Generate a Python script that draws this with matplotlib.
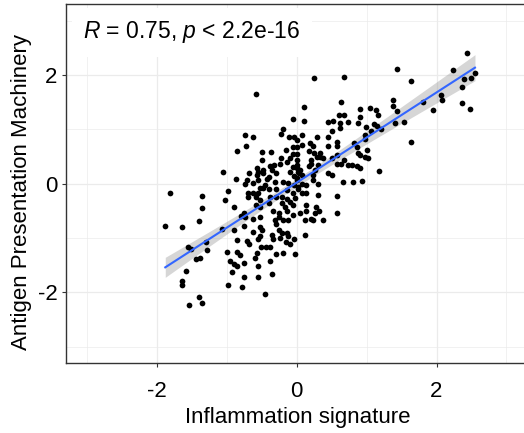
import numpy as np
import matplotlib
matplotlib.use("Agg")
import matplotlib.pyplot as plt

plt.rcParams['font.family'] = ['Liberation Sans', 'DejaVu Sans']
plt.rcParams['mathtext.fontset'] = 'custom'
plt.rcParams['mathtext.rm'] = 'Liberation Sans'
plt.rcParams['mathtext.it'] = 'Liberation Sans:italic'
plt.rcParams['axes.unicode_minus'] = False

# Inflammation signature (x) and Antigen Presentation Machinery (y)
inflammation = [
    2.43, 1.44, 2.24, 2.55, 2.49, 2.40, 2.36, 1.63, 0.25, 0.68, -0.58, 2.07, 2.08, 1.80, 2.36,
    1.95, 2.48, 1.38, 1.38, 1.44, 0.63, 0.10, 0.90, 1.05, 1.14, 1.17, 0.90, 0.60, 0.67, 0.52,
    0.45, 0.62, 0.74, -0.05, 0.10, 0.88, 1.53, 1.40, 1.10, 1.15, 1.20, 0.99, 0.62, 0.51, 0.45,
    0.98, 1.06, -0.20, -0.22, -0.74, -0.63, -0.72, -0.11, -0.04, 0.07, 0.19, 0.29, 1.63, 0.82, 0.86,
    0.57, 0.45, -0.85, -0.50, -0.37, -0.15, -0.05, 0.07, 0.23, 0.25, 0.88, 0.90, 1.02, 0.58, 0.33,
    0.21, -0.05, -0.10, -0.23, -0.14, 0.68, 0.57, 0.63, 0.79, 0.86, 0.90, -0.24, -0.38, -0.50, -0.57,
    -0.48, -1.06, -0.68, 1.18, 0.45, 0.31, 0.18, -0.06, 0.01, -0.09, 0.03, -0.04, -0.30, -0.39, -0.57,
    -0.55, -0.43, -0.31, -0.71, -0.87, -0.74, -0.62, -0.48, -0.40, -0.19, -0.12, -0.04, 0.07, 0.23, 0.31,
    0.66, 0.81, 0.94, -0.98, -0.62, -0.58, -0.69, -0.29, -0.14, 0.02, 0.07, -0.05, 0.31, 0.57, -1.81,
    -1.36, -1.02, -0.53, -0.29, -0.14, -0.10, -0.21, -0.17, -0.06, -0.90, -0.58, -0.52, -0.40, 0.14, 0.28,
    0.32, -1.36, -0.34, -0.26, -0.14, -0.05, 0.05, 0.14, 0.26, 0.58, -0.75, -0.80, -0.63, -0.52, -0.31,
    -0.19, -0.12, 0.21, 0.12, 0.38, -1.40, -1.88, -1.64, -1.07, -0.90, -0.75, -0.52, -0.50, -0.62, -0.29,
    -0.26, 0.12, -0.85, -0.71, -0.68, -0.52, -0.34, -0.24, -0.15, -0.10, -0.04, -1.55, -1.51, -1.29, -1.00,
    -0.85, -0.51, -0.44, -0.38, -0.57, -0.30, -0.19, -0.02, -1.38, -1.44, -0.95, -0.90, -0.86, -0.76, -0.60,
    -0.38, -0.56, -0.93, -1.59, -0.76, -0.55, -0.36, -1.64, -1.64, -0.98, -0.78, -0.45, -1.40, -1.35, -1.54,
    0.01, 0.00, 0.01, -0.32, -0.55, -0.48, -0.36, 0.02, 0.00, -0.45, -0.52, -0.69, 0.02, -0.55, 0.57,
    0.98, 0.01, 1.00, 0.17, 0.33, 0.29, 0.38, 0.50, 0.98, 0.21, 0.74, 0.00, 0.05, 0.26, 0.07,
    0.24, 0.50, 0.00, 0.14, -0.38, -0.21, -0.02, 0.14, -0.74, -0.26, 0.24, -0.14, -0.55, -0.12, -0.81,
    -1.30, -0.21, -0.36,
]
apm = [
    2.41, 2.10, 2.09, 2.03, 1.95, 1.92, 1.78, 1.89, 1.95, 1.97, 1.65, 1.63, 1.54, 1.51, 1.49,
    1.35, 1.38, 1.54, 1.43, 1.33, 1.51, 1.41, 1.38, 1.40, 1.35, 1.27, 1.23, 1.26, 1.26, 1.16,
    1.14, 1.12, 1.13, 1.19, 1.15, 1.12, 1.14, 1.12, 1.10, 1.06, 1.00, 1.05, 1.03, 0.96, 0.86,
    0.89, 0.97, 1.00, 0.91, 0.89, 0.85, 0.70, 0.85, 0.85, 0.89, 0.75, 0.86, 0.77, 0.74, 0.68,
    0.77, 0.69, 0.61, 0.58, 0.58, 0.62, 0.68, 0.71, 0.69, 0.56, 0.57, 0.52, 0.47, 0.53, 0.50,
    0.43, 0.55, 0.47, 0.47, 0.40, 0.43, 0.37, 0.36, 0.34, 0.33, 0.29, 0.36, 0.32, 0.43, 0.29,
    0.25, 0.21, 0.19, 0.23, 0.19, 0.34, 0.33, 0.31, 0.28, 0.22, 0.19, 0.15, 0.19, 0.13, 0.16,
    0.07, 0.08, 0.04, 0.07, 0.08, -0.01, 0.02, -0.07, -0.10, 0.04, 0.01, -0.02, -0.01, 0.07, -0.01,
    0.04, 0.04, 0.05, -0.13, -0.17, -0.24, -0.24, -0.10, -0.12, -0.10, -0.18, -0.18, -0.21, -0.22, -0.17,
    -0.23, -0.30, -0.30, -0.24, -0.28, -0.33, -0.36, -0.42, -0.39, -0.42, -0.39, -0.43, -0.36, -0.39, -0.43,
    -0.50, -0.45, -0.51, -0.54, -0.51, -0.58, -0.54, -0.51, -0.54, -0.53, -0.53, -0.59, -0.64, -0.61, -0.67,
    -0.67, -0.67, -0.64, -0.67, -0.67, -0.68, -0.77, -0.80, -0.84, -0.86, -0.78, -0.79, -0.86, -0.89, -0.74,
    -0.85, -0.94, -1.03, -1.05, -1.11, -0.97, -1.02, -0.99, -1.08, -1.10, -1.02, -1.16, -1.20, -1.21, -1.26,
    -1.25, -1.16, -1.17, -1.16, -1.28, -1.29, -1.27, -1.29, -1.36, -1.38, -1.43, -1.48, -1.51, -1.46, -1.37,
    -1.43, -1.52, -1.62, -1.60, -1.72, -1.72, -1.66, -1.79, -1.86, -1.87, -1.89, -2.03, -2.09, -2.20, -2.23,
    0.68, 0.54, 0.43, 0.34, 0.22, 0.19, 0.25, 0.22, 0.10, -0.02, -0.07, -0.18, -0.06, -0.18, 0.70,
    0.83, 0.80, 0.62, 0.60, 0.56, 0.50, 0.47, 0.47, 0.50, 0.37, 0.34, 0.34, 0.25, 0.25, 0.16,
    0.16, 0.16, 0.07, -0.02, -0.24, -0.24, -0.27, -0.18, -0.61, -0.61, -0.67, -0.90, -1.02, -0.97, -1.31,
    -1.08, -0.90, -0.94,
]

x_ticks = [-2, 0, 2]
y_ticks = [-2, 0, 2]
minor_ticks = [-3, -1, 1, 3]
x_title = "Inflammation signature"
y_title = "Antigen Presentation Machinery"
label_text = r"$\it{R}$ = 0.75, $\it{p}$ < 2.2e-16"

x = np.array(inflammation)
y = np.array(apm)

W, H = 524, 433
fig = plt.figure(figsize=(W / 100, H / 100), dpi=100)
left_px, right_px, top_px, bot_px = 66, 527.4, 4.2, 363.2
ax = fig.add_axes([left_px / W, (H - bot_px) / H, (right_px - left_px) / W, (bot_px - top_px) / H])
ax.set_xlim(-3.3, 3.3)
ax.set_ylim(-3.3, 3.3)

ax.set_xticks(x_ticks)
ax.set_yticks(y_ticks)
ax.set_xticks(minor_ticks, minor=True)
ax.set_yticks(minor_ticks, minor=True)
ax.grid(True, which='major', color='#EBEBEB', linewidth=0.9)
ax.grid(True, which='minor', color='#EBEBEB', linewidth=0.5)
ax.set_axisbelow(True)
ax.tick_params(which='minor', length=0)
ax.tick_params(axis='both', which='major', length=3, width=0.8, color='#333333',
               labelsize=16, labelcolor='black')
ax.tick_params(axis='x', which='major', pad=10)
ax.tick_params(axis='y', which='major', pad=3)
for s in ax.spines.values():
    s.set_color('#333333')
    s.set_linewidth(1.0)

# regression line with 95% CI
b, a = np.polyfit(x, y, 1)
xs = np.linspace(x.min(), x.max(), 100)
yhat = a + b * xs
n = len(x)
resid = y - (a + b * x)
s_err = np.sqrt(np.sum(resid ** 2) / (n - 2))
xm = x.mean()
se = s_err * np.sqrt(1 / n + (xs - xm) ** 2 / np.sum((x - xm) ** 2))
t = 1.969
ax.fill_between(xs, yhat - t * se, yhat + t * se, color='#999999', alpha=0.4, linewidth=0, zorder=2)

ax.scatter(x, y, s=17, color='black', linewidths=0, zorder=3)
ax.plot(xs, yhat, color='#3366FF', linewidth=1.5, zorder=4)

ax.text(-3.05, 2.78, label_text, fontsize=16.5, ha='left', va='center', zorder=5,
        bbox=dict(boxstyle='square,pad=0.5', facecolor='white', edgecolor='none'))

ax.set_xlabel(x_title, fontsize=16)
ax.set_ylabel(y_title, fontsize=16)
ax.xaxis.label.set_va('center')
ax.yaxis.label.set_va('center')
ax.xaxis.set_label_coords((298 - left_px) / (right_px - left_px), (bot_px - 418) / (bot_px - top_px))
ax.yaxis.set_label_coords((22 - left_px) / (right_px - left_px), (bot_px - 191.7) / (bot_px - top_px))

fig.savefig('out.png', dpi=100)
